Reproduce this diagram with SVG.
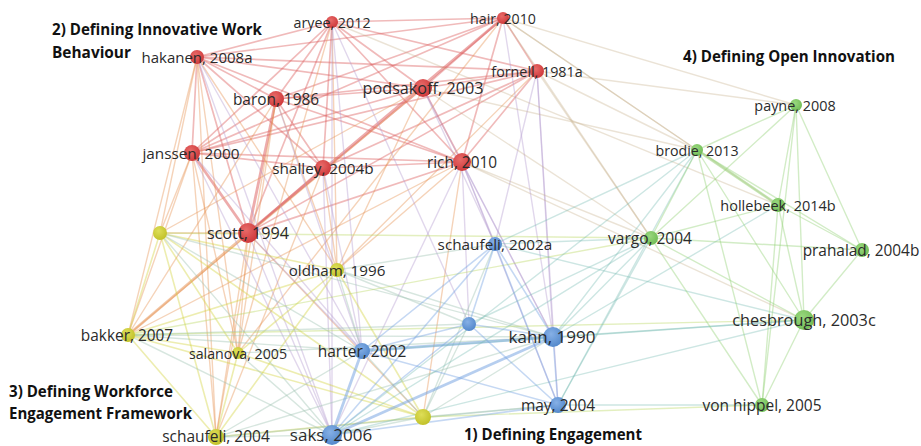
<svg xmlns="http://www.w3.org/2000/svg" width="921" height="446" viewBox="0 0 921 446">
<style>
.e{fill:none;stroke-width:1.4;stroke-opacity:.4;stroke-linecap:round}
.t{stroke-width:2.8;stroke-opacity:.5}
.r{stroke:#dc5a5a;stroke-width:1.7;stroke-opacity:.42}.y{stroke:#d2d23a;stroke-width:1.6}.b{stroke:#6e9ee0;stroke-width:1.6}.g{stroke:#8fd070}
.ry{stroke:#e69050}.rb{stroke:#b49ad0;stroke-opacity:.4}.yb{stroke:#9cc0b0}.rg{stroke:#c0a880;stroke-opacity:.32}.bg{stroke:#70b8b0;stroke-opacity:.35}.yg{stroke:#b8d860}
.r.t{stroke-width:2.8;stroke-opacity:.5}.b.t{stroke-width:2.8;stroke-opacity:.5}
.lbl{font-family:"Open Sans","Liberation Sans",sans-serif;fill:#2b2b2b;text-anchor:middle}
.ttl{font-family:"Open Sans","Liberation Sans",sans-serif;font-weight:700;font-size:16px;fill:#111}
.nr{fill:url(#gr)}.ny{fill:url(#gy)}.nb{fill:url(#gb)}.ng{fill:url(#gg)}
</style>
<defs>
<radialGradient id="gr" cx="40%" cy="35%" r="65%"><stop offset="0" stop-color="#e86a68"/><stop offset="1" stop-color="#cf3a3c"/></radialGradient>
<radialGradient id="gy" cx="40%" cy="35%" r="65%"><stop offset="0" stop-color="#dede58"/><stop offset="1" stop-color="#c2c22a"/></radialGradient>
<radialGradient id="gb" cx="40%" cy="35%" r="65%"><stop offset="0" stop-color="#86b0e6"/><stop offset="1" stop-color="#5489cc"/></radialGradient>
<radialGradient id="gg" cx="40%" cy="35%" r="65%"><stop offset="0" stop-color="#9ad87e"/><stop offset="1" stop-color="#72bd58"/></radialGradient>
</defs>
<rect width="921" height="446" fill="#fff"/>
<g id="connectors">
<line class="e r" x1="197" y1="57" x2="332" y2="22"/>
<line class="e r" x1="197" y1="57" x2="503" y2="18"/>
<line class="e r" x1="197" y1="57" x2="537" y2="71"/>
<line class="e r" x1="197" y1="57" x2="423" y2="88"/>
<line class="e r" x1="197" y1="57" x2="276" y2="99"/>
<line class="e r" x1="197" y1="57" x2="192" y2="153"/>
<line class="e r" x1="197" y1="57" x2="323" y2="168"/>
<line class="e r" x1="197" y1="57" x2="462" y2="162"/>
<line class="e r" x1="197" y1="57" x2="248" y2="233"/>
<line class="e r" x1="332" y1="22" x2="503" y2="18"/>
<line class="e r" x1="332" y1="22" x2="537" y2="71"/>
<line class="e r" x1="332" y1="22" x2="423" y2="88"/>
<line class="e r" x1="332" y1="22" x2="276" y2="99"/>
<line class="e r" x1="332" y1="22" x2="192" y2="153"/>
<line class="e r" x1="332" y1="22" x2="323" y2="168"/>
<line class="e r" x1="332" y1="22" x2="462" y2="162"/>
<line class="e r" x1="332" y1="22" x2="248" y2="233"/>
<line class="e r" x1="503" y1="18" x2="537" y2="71"/>
<line class="e r" x1="503" y1="18" x2="423" y2="88"/>
<line class="e r" x1="503" y1="18" x2="276" y2="99"/>
<line class="e r" x1="503" y1="18" x2="192" y2="153"/>
<line class="e r" x1="503" y1="18" x2="462" y2="162"/>
<line class="e r t" x1="503" y1="18" x2="248" y2="233"/>
<line class="e r" x1="537" y1="71" x2="423" y2="88"/>
<line class="e r" x1="537" y1="71" x2="276" y2="99"/>
<line class="e r" x1="537" y1="71" x2="192" y2="153"/>
<line class="e r" x1="537" y1="71" x2="323" y2="168"/>
<line class="e r" x1="537" y1="71" x2="462" y2="162"/>
<line class="e r" x1="537" y1="71" x2="248" y2="233"/>
<line class="e r" x1="423" y1="88" x2="276" y2="99"/>
<line class="e r" x1="423" y1="88" x2="192" y2="153"/>
<line class="e r" x1="423" y1="88" x2="462" y2="162"/>
<line class="e r" x1="423" y1="88" x2="248" y2="233"/>
<line class="e r" x1="276" y1="99" x2="192" y2="153"/>
<line class="e r" x1="276" y1="99" x2="323" y2="168"/>
<line class="e r" x1="276" y1="99" x2="462" y2="162"/>
<line class="e r t" x1="276" y1="99" x2="248" y2="233"/>
<line class="e r" x1="192" y1="153" x2="323" y2="168"/>
<line class="e r" x1="192" y1="153" x2="462" y2="162"/>
<line class="e r t" x1="192" y1="153" x2="248" y2="233"/>
<line class="e r" x1="323" y1="168" x2="462" y2="162"/>
<line class="e r" x1="323" y1="168" x2="248" y2="233"/>
<line class="e r" x1="462" y1="162" x2="248" y2="233"/>
<line class="e ry" x1="197" y1="57" x2="160" y2="233"/>
<line class="e ry" x1="197" y1="57" x2="337" y2="270"/>
<line class="e ry" x1="197" y1="57" x2="238" y2="353"/>
<line class="e ry" x1="197" y1="57" x2="216" y2="437"/>
<line class="e ry" x1="197" y1="57" x2="128" y2="335"/>
<line class="e ry" x1="192" y1="153" x2="160" y2="233"/>
<line class="e ry" x1="192" y1="153" x2="128" y2="335"/>
<line class="e ry" x1="192" y1="153" x2="238" y2="353"/>
<line class="e ry" x1="192" y1="153" x2="216" y2="437"/>
<line class="e ry" x1="248" y1="233" x2="160" y2="233"/>
<line class="e ry t" x1="248" y1="233" x2="128" y2="335"/>
<line class="e ry" x1="248" y1="233" x2="238" y2="353"/>
<line class="e ry" x1="248" y1="233" x2="216" y2="437"/>
<line class="e ry" x1="248" y1="233" x2="423" y2="417"/>
<line class="e ry" x1="276" y1="99" x2="337" y2="270"/>
<line class="e ry" x1="276" y1="99" x2="238" y2="353"/>
<line class="e ry" x1="276" y1="99" x2="216" y2="437"/>
<line class="e ry" x1="276" y1="99" x2="128" y2="335"/>
<line class="e ry" x1="323" y1="168" x2="337" y2="270"/>
<line class="e ry" x1="323" y1="168" x2="216" y2="437"/>
<line class="e ry" x1="423" y1="88" x2="337" y2="270"/>
<line class="e ry" x1="423" y1="88" x2="128" y2="335"/>
<line class="e ry" x1="423" y1="88" x2="160" y2="233"/>
<line class="e ry" x1="462" y1="162" x2="337" y2="270"/>
<line class="e ry" x1="462" y1="162" x2="423" y2="417"/>
<line class="e ry" x1="462" y1="162" x2="128" y2="335"/>
<line class="e ry" x1="332" y1="22" x2="337" y2="270"/>
<line class="e ry" x1="332" y1="22" x2="238" y2="353"/>
<line class="e ry" x1="503" y1="18" x2="238" y2="353"/>
<line class="e ry" x1="537" y1="71" x2="337" y2="270"/>
<line class="e rb" x1="197" y1="57" x2="362" y2="351"/>
<line class="e rb" x1="197" y1="57" x2="332" y2="435"/>
<line class="e rb" x1="332" y1="22" x2="469" y2="324"/>
<line class="e rb" x1="332" y1="22" x2="332" y2="435"/>
<line class="e rb" x1="423" y1="88" x2="495" y2="244"/>
<line class="e rb" x1="423" y1="88" x2="553" y2="337"/>
<line class="e rb" x1="462" y1="162" x2="495" y2="244"/>
<line class="e rb" x1="462" y1="162" x2="553" y2="337"/>
<line class="e rb" x1="462" y1="162" x2="558" y2="405"/>
<line class="e rb" x1="462" y1="162" x2="332" y2="435"/>
<line class="e rb" x1="462" y1="162" x2="469" y2="324"/>
<line class="e rb" x1="323" y1="168" x2="362" y2="351"/>
<line class="e rb" x1="323" y1="168" x2="332" y2="435"/>
<line class="e rb" x1="276" y1="99" x2="362" y2="351"/>
<line class="e rb" x1="537" y1="71" x2="553" y2="337"/>
<line class="e rb" x1="537" y1="71" x2="495" y2="244"/>
<line class="e rb" x1="503" y1="18" x2="553" y2="337"/>
<line class="e rb" x1="192" y1="153" x2="362" y2="351"/>
<line class="e rb" x1="192" y1="153" x2="332" y2="435"/>
<line class="e rb" x1="248" y1="233" x2="332" y2="435"/>
<line class="e rb" x1="248" y1="233" x2="362" y2="351"/>
<line class="e rb" x1="332" y1="22" x2="362" y2="351"/>
<line class="e rb" x1="537" y1="71" x2="558" y2="405"/>
<line class="e rg" x1="503" y1="18" x2="796" y2="105"/>
<line class="e rg" x1="503" y1="18" x2="778" y2="205"/>
<line class="e rg" x1="503" y1="18" x2="697" y2="150"/>
<line class="e rg" x1="537" y1="71" x2="697" y2="150"/>
<line class="e rg" x1="537" y1="71" x2="651" y2="238"/>
<line class="e rg" x1="537" y1="71" x2="796" y2="105"/>
<line class="e rg" x1="423" y1="88" x2="697" y2="150"/>
<line class="e rg" x1="423" y1="88" x2="651" y2="238"/>
<line class="e rg" x1="462" y1="162" x2="651" y2="238"/>
<line class="e rg" x1="332" y1="22" x2="778" y2="205"/>
<line class="e rg" x1="503" y1="18" x2="651" y2="238"/>
<line class="e rg" x1="462" y1="162" x2="804" y2="320"/>
<line class="e y" x1="160" y1="233" x2="128" y2="335"/>
<line class="e y" x1="160" y1="233" x2="238" y2="353"/>
<line class="e y" x1="160" y1="233" x2="216" y2="437"/>
<line class="e y" x1="160" y1="233" x2="337" y2="270"/>
<line class="e y" x1="128" y1="335" x2="238" y2="353"/>
<line class="e y" x1="128" y1="335" x2="216" y2="437"/>
<line class="e y" x1="128" y1="335" x2="423" y2="417"/>
<line class="e y" x1="128" y1="335" x2="337" y2="270"/>
<line class="e y" x1="238" y1="353" x2="216" y2="437"/>
<line class="e y" x1="238" y1="353" x2="423" y2="417"/>
<line class="e y" x1="216" y1="437" x2="423" y2="417"/>
<line class="e y" x1="337" y1="270" x2="216" y2="437"/>
<line class="e y" x1="337" y1="270" x2="423" y2="417"/>
<line class="e y" x1="337" y1="270" x2="238" y2="353"/>
<line class="e y" x1="160" y1="233" x2="423" y2="417"/>
<line class="e yb" x1="160" y1="233" x2="362" y2="351"/>
<line class="e yb" x1="160" y1="233" x2="332" y2="435"/>
<line class="e yb" x1="128" y1="335" x2="553" y2="337"/>
<line class="e yb" x1="128" y1="335" x2="362" y2="351"/>
<line class="e yb" x1="128" y1="335" x2="332" y2="435"/>
<line class="e yb" x1="128" y1="335" x2="469" y2="324"/>
<line class="e yb" x1="238" y1="353" x2="332" y2="435"/>
<line class="e yb" x1="238" y1="353" x2="553" y2="337"/>
<line class="e yb" x1="216" y1="437" x2="332" y2="435"/>
<line class="e yb" x1="216" y1="437" x2="362" y2="351"/>
<line class="e yb" x1="216" y1="437" x2="553" y2="337"/>
<line class="e yb" x1="423" y1="417" x2="553" y2="337"/>
<line class="e yb" x1="423" y1="417" x2="362" y2="351"/>
<line class="e yb" x1="423" y1="417" x2="332" y2="435"/>
<line class="e yb" x1="423" y1="417" x2="469" y2="324"/>
<line class="e yb" x1="423" y1="417" x2="558" y2="405"/>
<line class="e yb" x1="423" y1="417" x2="495" y2="244"/>
<line class="e yb" x1="337" y1="270" x2="362" y2="351"/>
<line class="e yb" x1="337" y1="270" x2="553" y2="337"/>
<line class="e yb" x1="337" y1="270" x2="495" y2="244"/>
<line class="e yb" x1="337" y1="270" x2="469" y2="324"/>
<line class="e yb" x1="216" y1="437" x2="558" y2="405"/>
<line class="e yb" x1="160" y1="233" x2="553" y2="337"/>
<line class="e yg" x1="128" y1="335" x2="651" y2="238"/>
<line class="e yg" x1="423" y1="417" x2="762" y2="405"/>
<line class="e yg" x1="160" y1="233" x2="651" y2="238"/>
<line class="e yg" x1="128" y1="335" x2="804" y2="320"/>
<line class="e b" x1="495" y1="244" x2="469" y2="324"/>
<line class="e b" x1="495" y1="244" x2="553" y2="337"/>
<line class="e b" x1="495" y1="244" x2="362" y2="351"/>
<line class="e b" x1="495" y1="244" x2="558" y2="405"/>
<line class="e b" x1="495" y1="244" x2="332" y2="435"/>
<line class="e b" x1="469" y1="324" x2="553" y2="337"/>
<line class="e b" x1="469" y1="324" x2="362" y2="351"/>
<line class="e b" x1="469" y1="324" x2="558" y2="405"/>
<line class="e b" x1="469" y1="324" x2="332" y2="435"/>
<line class="e b t" x1="553" y1="337" x2="362" y2="351"/>
<line class="e b" x1="553" y1="337" x2="558" y2="405"/>
<line class="e b t" x1="553" y1="337" x2="332" y2="435"/>
<line class="e b" x1="362" y1="351" x2="558" y2="405"/>
<line class="e b t" x1="362" y1="351" x2="332" y2="435"/>
<line class="e b" x1="558" y1="405" x2="332" y2="435"/>
<line class="e bg" x1="495" y1="244" x2="697" y2="150"/>
<line class="e bg" x1="495" y1="244" x2="651" y2="238"/>
<line class="e bg" x1="553" y1="337" x2="651" y2="238"/>
<line class="e bg" x1="553" y1="337" x2="804" y2="320"/>
<line class="e bg" x1="553" y1="337" x2="697" y2="150"/>
<line class="e bg" x1="469" y1="324" x2="651" y2="238"/>
<line class="e bg" x1="558" y1="405" x2="651" y2="238"/>
<line class="e bg" x1="558" y1="405" x2="697" y2="150"/>
<line class="e bg" x1="332" y1="435" x2="651" y2="238"/>
<line class="e bg" x1="332" y1="435" x2="804" y2="320"/>
<line class="e bg" x1="362" y1="351" x2="804" y2="320"/>
<line class="e bg" x1="495" y1="244" x2="804" y2="320"/>
<line class="e bg" x1="553" y1="337" x2="778" y2="205"/>
<line class="e bg" x1="558" y1="405" x2="762" y2="405"/>
<line class="e bg" x1="332" y1="435" x2="697" y2="150"/>
<line class="e g" x1="796" y1="105" x2="697" y2="150"/>
<line class="e g" x1="796" y1="105" x2="778" y2="205"/>
<line class="e g" x1="796" y1="105" x2="651" y2="238"/>
<line class="e g" x1="796" y1="105" x2="862" y2="250"/>
<line class="e g" x1="796" y1="105" x2="804" y2="320"/>
<line class="e g" x1="796" y1="105" x2="762" y2="405"/>
<line class="e g t" x1="697" y1="150" x2="778" y2="205"/>
<line class="e g" x1="697" y1="150" x2="651" y2="238"/>
<line class="e g" x1="697" y1="150" x2="862" y2="250"/>
<line class="e g" x1="697" y1="150" x2="804" y2="320"/>
<line class="e g" x1="697" y1="150" x2="762" y2="405"/>
<line class="e g" x1="778" y1="205" x2="651" y2="238"/>
<line class="e g" x1="778" y1="205" x2="862" y2="250"/>
<line class="e g" x1="778" y1="205" x2="804" y2="320"/>
<line class="e g" x1="778" y1="205" x2="762" y2="405"/>
<line class="e g" x1="651" y1="238" x2="862" y2="250"/>
<line class="e g" x1="651" y1="238" x2="804" y2="320"/>
<line class="e g" x1="651" y1="238" x2="762" y2="405"/>
<line class="e g" x1="862" y1="250" x2="804" y2="320"/>
<line class="e g" x1="804" y1="320" x2="762" y2="405"/>
</g>
<g id="n-hakanen-2008a"><circle class="nr" cx="197" cy="57" r="7"/><text class="lbl" x="197" y="63" font-size="15">hakanen, 2008a</text></g>
<g id="n-aryee-2012"><circle class="nr" cx="332" cy="22" r="6"/><text class="lbl" x="332" y="27.5" font-size="14.3">aryee, 2012</text></g>
<g id="n-hair-2010"><circle class="nr" cx="503" cy="18" r="6"/><text class="lbl" x="503" y="23.5" font-size="14.2">hair, 2010</text></g>
<g id="n-fornell-1981a"><circle class="nr" cx="537" cy="71" r="7"/><text class="lbl" x="537" y="76.5" font-size="14.3">fornell, 1981a</text></g>
<g id="n-podsakoff-2003"><circle class="nr" cx="423" cy="88" r="9"/><text class="lbl" x="423" y="94" font-size="16.2">podsakoff, 2003</text></g>
<g id="n-baron-1986"><circle class="nr" cx="276" cy="99" r="8"/><text class="lbl" x="276" y="104.5" font-size="15.4">baron, 1986</text></g>
<g id="n-janssen-2000"><circle class="nr" cx="192" cy="153" r="8"/><text class="lbl" x="191" y="158.5" font-size="15.3">janssen, 2000</text></g>
<g id="n-shalley-2004b"><circle class="nr" cx="323" cy="168" r="8"/><text class="lbl" x="323" y="173.5" font-size="15.3">shalley, 2004b</text></g>
<g id="n-rich-2010"><circle class="nr" cx="462" cy="162" r="9"/><text class="lbl" x="462" y="168" font-size="15.4">rich, 2010</text></g>
<g id="n-scott-1994"><circle class="nr" cx="248" cy="233" r="10"/><text class="lbl" x="248" y="239" font-size="16.2">scott, 1994</text></g>
<g id="n-yellow-1"><circle class="ny" cx="160" cy="233" r="7"/></g>
<g id="n-oldham-1996"><circle class="ny" cx="337" cy="270" r="7"/><text class="lbl" x="337" y="275.5" font-size="15.2">oldham, 1996</text></g>
<g id="n-bakker-2007"><circle class="ny" cx="128" cy="335" r="7"/><text class="lbl" x="127" y="340.5" font-size="15.4">bakker, 2007</text></g>
<g id="n-salanova-2005"><circle class="ny" cx="238" cy="353" r="6"/><text class="lbl" x="238" y="358.5" font-size="14.2">salanova, 2005</text></g>
<g id="n-schaufeli-2004"><circle class="ny" cx="216" cy="437" r="8"/><text class="lbl" x="216" y="441.5" font-size="15.5">schaufeli, 2004</text></g>
<g id="n-yellow-2"><circle class="ny" cx="423" cy="417" r="8"/></g>
<g id="n-schaufeli-2002a"><circle class="nb" cx="495" cy="244" r="7"/><text class="lbl" x="495" y="249.5" font-size="15.3">schaufeli, 2002a</text></g>
<g id="n-blue-1"><circle class="nb" cx="469" cy="324" r="7"/></g>
<g id="n-kahn-1990"><circle class="nb" cx="553" cy="337" r="10"/><text class="lbl" x="552" y="343" font-size="17">kahn, 1990</text></g>
<g id="n-harter-2002"><circle class="nb" cx="362" cy="351" r="8"/><text class="lbl" x="362" y="356.5" font-size="15.5">harter, 2002</text></g>
<g id="n-may-2004"><circle class="nb" cx="558" cy="405" r="8"/><text class="lbl" x="558" y="410.5" font-size="15.5">may, 2004</text></g>
<g id="n-saks-2006"><circle class="nb" cx="332" cy="435" r="10"/><text class="lbl" x="331" y="441" font-size="17">saks, 2006</text></g>
<g id="n-payne-2008"><circle class="ng" cx="796" cy="105" r="6"/><text class="lbl" x="795" y="110.5" font-size="14.4">payne, 2008</text></g>
<g id="n-brodie-2013"><circle class="ng" cx="697" cy="150" r="6"/><text class="lbl" x="697" y="155.5" font-size="14.2">brodie, 2013</text></g>
<g id="n-hollebeek-2014b"><circle class="ng" cx="778" cy="205" r="7"/><text class="lbl" x="778" y="210.5" font-size="14.5">hollebeek, 2014b</text></g>
<g id="n-vargo-2004"><circle class="ng" cx="651" cy="238" r="7"/><text class="lbl" x="650" y="243.5" font-size="15.5">vargo, 2004</text></g>
<g id="n-prahalad-2004b"><circle class="ng" cx="862" cy="250" r="7"/><text class="lbl" x="861" y="255.5" font-size="15.4">prahalad, 2004b</text></g>
<g id="n-chesbrough-2003c"><circle class="ng" cx="804" cy="320" r="10"/><text class="lbl" x="804" y="326" font-size="16.3">chesbrough, 2003c</text></g>
<g id="n-vonhippel-2005"><circle class="ng" cx="762" cy="405" r="7"/><text class="lbl" x="762" y="410.5" font-size="15.5">von hippel, 2005</text></g>
<g id="titles">
<text class="ttl" x="52" y="35" textLength="210" lengthAdjust="spacingAndGlyphs">2) Defining Innovative Work</text>
<text class="ttl" x="52" y="58" textLength="79" lengthAdjust="spacingAndGlyphs">Behaviour</text>
<text class="ttl" x="683" y="62" textLength="212" lengthAdjust="spacingAndGlyphs">4) Defining Open Innovation</text>
<text class="ttl" x="9" y="397" textLength="164" lengthAdjust="spacingAndGlyphs">3) Defining Workforce</text>
<text class="ttl" x="9" y="419" textLength="183" lengthAdjust="spacingAndGlyphs">Engagement Framework</text>
<text class="ttl" x="464" y="440" textLength="178" lengthAdjust="spacingAndGlyphs">1) Defining Engagement</text>
</g>
</svg>
